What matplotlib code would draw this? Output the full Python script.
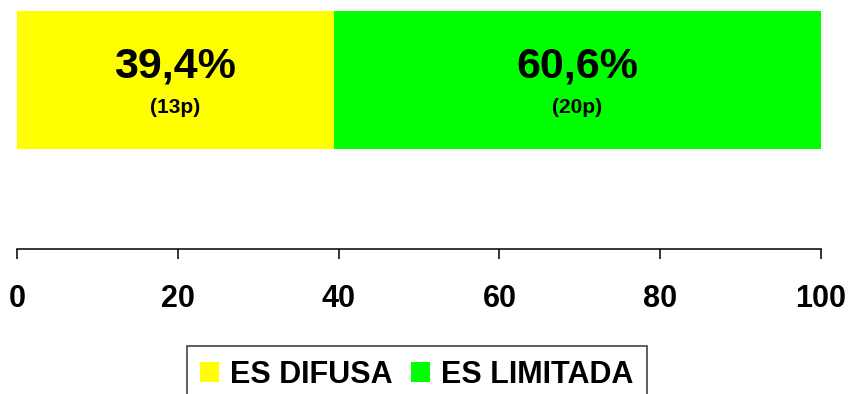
import matplotlib
matplotlib.use("Agg")
import matplotlib.pyplot as plt

plt.rcParams['font.family'] = ['Liberation Sans', 'DejaVu Sans']
plt.rcParams['font.weight'] = 'bold'

categories = ['ES DIFUSA', 'ES LIMITADA']
percents = [39.4, 60.6]
counts = [13, 20]
colors = ['#FFFF00', '#00FF00']
ticks = [0, 20, 40, 60, 80, 100]

fig = plt.figure(figsize=(8.55, 3.94), dpi=100)
ax = fig.add_axes([17 / 855, (394 - 249) / 394, 804 / 855, 249 / 394])

left = 0
for cat, p, n, c in zip(categories, percents, counts, colors):
    ax.barh(0, p, left=left, height=1.0, color=c, edgecolor='none', label=cat)
    cx = left + p / 2
    ax.text(cx, 0.10, f"{p:.1f}%".replace('.', ','), ha='center', va='center',
            fontsize=31, fontweight='bold')
    ax.text(cx, -0.20, f"({n}p)", ha='center', va='center',
            fontsize=15, fontweight='bold')
    left += p

ax.set_xlim(0, 100)
ax.set_ylim(-1.225, 0.579)
ax.set_xticks(ticks)
ax.set_xticklabels([str(t) for t in ticks], fontsize=22, fontweight='bold')
ax.tick_params(axis='x', length=7.2, width=1.1, pad=18, direction='out')
ax.set_yticks([])
for s in ['top', 'right', 'left']:
    ax.spines[s].set_visible(False)
ax.spines['bottom'].set_linewidth(1.1)

leg = fig.legend(loc='upper center', bbox_to_anchor=(417 / 855, (394 - 346) / 394),
                 ncol=2, fontsize=22, frameon=True, fancybox=False,
                 edgecolor='black', handlelength=0.62, handleheight=0.62,
                 handletextpad=0.36, columnspacing=0.6, borderpad=0.45,
                 borderaxespad=0)
leg.get_frame().set_linewidth(1.1)
for t in leg.get_texts():
    t.set_fontweight('bold')

fig.savefig('out.png', dpi=100, facecolor='white')
